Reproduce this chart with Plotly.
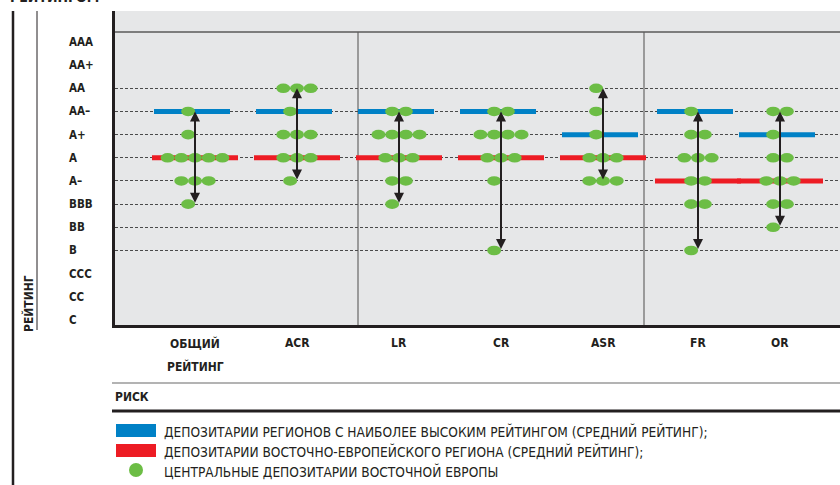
import plotly.graph_objects as go

# ---------------- data ----------------
RATINGS = ["AAA", "AA+", "AA", "AA–", "A+", "A", "A–", "BBB", "BB", "B", "CCC", "CC", "C"]
CATEGORIES = ["ОБЩИЙ РЕЙТИНГ", "ACR", "LR", "CR", "ASR", "FR", "OR"]

# number of East-European central depositories per rating (order of RATINGS)
DOTS_GENERAL = [0, 0, 0, 1, 1, 5, 3, 1, 0, 0, 0, 0, 0]
DOTS_ACR = [0, 0, 3, 1, 3, 3, 1, 0, 0, 0, 0, 0, 0]
DOTS_LR = [0, 0, 0, 2, 4, 3, 2, 1, 0, 0, 0, 0, 0]
DOTS_CR = [0, 0, 0, 2, 4, 3, 1, 0, 0, 1, 0, 0, 0]
DOTS_ASR = [0, 0, 1, 1, 1, 3, 3, 0, 0, 0, 0, 0, 0]
DOTS_FR = [0, 0, 0, 1, 2, 3, 2, 2, 0, 1, 0, 0, 0]
DOTS_OR = [0, 0, 0, 2, 1, 2, 3, 2, 1, 0, 0, 0, 0]

TOP_REGION_AVG = ["AA–", "AA–", "AA–", "AA–", "A+", "AA–", "A+"]
EAST_EUROPE_AVG = ["A", "A", "A", "A", "A", "A–", "A–"]
GRID_RATINGS = ["AA", "AA–", "A+", "A", "A–", "BBB", "BB", "B"]

LEGEND_TEXT = [
    "ДЕПОЗИТАРИИ РЕГИОНОВ С НАИБОЛЕЕ ВЫСОКИМ РЕЙТИНГОМ (СРЕДНИЙ РЕЙТИНГ);",
    "ДЕПОЗИТАРИИ ВОСТОЧНО-ЕВРОПЕЙСКОГО РЕГИОНА (СРЕДНИЙ РЕЙТИНГ);",
    "ЦЕНТРАЛЬНЫЕ ДЕПОЗИТАРИИ ВОСТОЧНОЙ ЕВРОПЫ",
]
AXIS_TITLE = "РЕЙТИНГ"
RISK_TITLE = "РИСК"
TOP_CUT_TEXT = "РЕЙТИНГОМ"

DOTS = [DOTS_GENERAL, DOTS_ACR, DOTS_LR, DOTS_CR, DOTS_ASR, DOTS_FR, DOTS_OR]

# ---------------- layout / style ----------------
W, H = 840, 485
ML, MR, MT, MB = 115, 0, 11, 160
PW, PH = W - ML - MR, H - MT - MB
STEP = 23.17                 # px between rating levels
LABEL_C_PY = 320             # px position of lowest level
CAT_X = [80, 182, 284, 386, 488, 583, 665]   # category centres (x units = px)
SEP_X = [243, 529]
DOT_STEP, DOT_W, DOT_H = 13.7, 14, 9.6
BLUE_SHIFT, BLUE_HALF = -3, 38
RED_SHIFT, RED_HALF = 0, 43

BLUE = "#0081c6"
RED = "#ed1c24"
GREEN = "#6cbd45"
INK = "#231f20"
BG = "#e6e7e8"
FONT = "Liberation Sans Narrow, Arial Narrow, DejaVu Sans Condensed, Liberation Sans, sans-serif"

LEVEL = {r: len(RATINGS) - i for i, r in enumerate(RATINGS)}


def v_of_py(py):
    return 1 + (LABEL_C_PY - py) / STEP


def px_x(px):
    return (px - ML) / PW


def px_y(py):
    return (H - MB - py) / PH


fig = go.Figure()

# average-rating bars
for avg, color, shift, half in [(TOP_REGION_AVG, BLUE, BLUE_SHIFT, BLUE_HALF),
                                (EAST_EUROPE_AVG, RED, RED_SHIFT, RED_HALF)]:
    xs, ys = [], []
    for c, r in zip(CAT_X, avg):
        xs += [c + shift - half, c + shift + half, None]
        ys += [LEVEL[r], LEVEL[r], None]
    fig.add_trace(go.Scatter(x=xs, y=ys, mode="lines", line=dict(color=color, width=5),
                             showlegend=False, hoverinfo="skip"))

shapes = []
annotations = []

# dots (ellipses anchored at data coordinates)
for c, counts in zip(CAT_X, DOTS):
    for r, n in zip(RATINGS, counts):
        if n == 0:
            continue
        offs = [(i - (n - 1) / 2) * DOT_STEP for i in range(n)]
        if n == 1:
            offs = [-DOT_STEP / 2]
        for o in offs:
            shapes.append(dict(type="circle", xref="x", yref="y", xsizemode="pixel", ysizemode="pixel",
                               xanchor=c + o, yanchor=LEVEL[r], x0=-DOT_W / 2, x1=DOT_W / 2,
                               y0=-DOT_H / 2, y1=DOT_H / 2, fillcolor=GREEN, line=dict(width=0),
                               layer="above"))
    # range arrow
    lv = [LEVEL[r] for r, n in zip(RATINGS, counts) if n > 0]
    annotations.append(dict(x=c, y=max(lv), ax=c, ay=min(lv), xref="x", yref="y", axref="x", ayref="y",
                            text="", showarrow=True, arrowhead=2, arrowside="end+start", arrowsize=1,
                            arrowwidth=2, arrowcolor=INK, standoff=0, startstandoff=0))

# separators
for sx in SEP_X:
    shapes.append(dict(type="line", xref="x", yref="paper", x0=sx, x1=sx, y0=0, y1=px_y(32),
                       line=dict(color="#9a9a9a", width=2), layer="below"))
# top line in plot
shapes.append(dict(type="line", xref="paper", yref="paper", x0=0, x1=1, y0=px_y(32), y1=px_y(32),
                   line=dict(color="#5a5a5a", width=1.5)))
# left frame lines
shapes.append(dict(type="line", xref="paper", yref="paper", x0=px_x(13), x1=px_x(13), y0=px_y(11), y1=px_y(486),
                   line=dict(color=INK, width=2.5)))
shapes.append(dict(type="line", xref="paper", yref="paper", x0=px_x(37), x1=px_x(37), y0=px_y(11), y1=px_y(330),
                   line=dict(color=INK, width=1)))
# risk lines
shapes.append(dict(type="line", xref="paper", yref="paper", x0=px_x(112), x1=1, y0=px_y(383), y1=px_y(383),
                   line=dict(color="#9a9a9a", width=1.5)))
shapes.append(dict(type="line", xref="paper", yref="paper", x0=px_x(112), x1=1, y0=px_y(411), y1=px_y(411),
                   line=dict(color=INK, width=3)))
# legend swatches
shapes.append(dict(type="rect", xref="paper", yref="paper", x0=px_x(116), x1=px_x(156), y0=px_y(437), y1=px_y(424),
                   fillcolor=BLUE, line=dict(width=0)))
shapes.append(dict(type="rect", xref="paper", yref="paper", x0=px_x(116), x1=px_x(156), y0=px_y(457), y1=px_y(444),
                   fillcolor=RED, line=dict(width=0)))
shapes.append(dict(type="circle", xref="paper", yref="paper", x0=px_x(129), x1=px_x(143), y0=px_y(477), y1=px_y(463),
                   fillcolor=GREEN, line=dict(width=0)))

# rating labels
for r in RATINGS:
    annotations.append(dict(x=px_x(67), y=LEVEL[r], xref="paper", yref="y", text=r, showarrow=False,
                            xanchor="left", yanchor="middle",
                            font=dict(family=FONT, size=11.5, color=INK, weight="bold")))
# category labels
for c, name in zip(CAT_X, CATEGORIES):
    for k, part in enumerate(name.split(" ")):
        annotations.append(dict(x=c, y=px_y(343 + 23 * k), xref="x", yref="paper", text=part, showarrow=False,
                                xanchor="center", yanchor="middle",
                                font=dict(family=FONT, size=12, color=INK, weight="bold")))
annotations.append(dict(x=px_x(113), y=px_y(397), xref="paper", yref="paper", text=RISK_TITLE, showarrow=False,
                        xanchor="left", yanchor="middle",
                        font=dict(family=FONT, size=12, color=INK, weight="bold")))
annotations.append(dict(x=px_x(28), y=px_y(304), xref="paper", yref="paper", text=AXIS_TITLE, showarrow=False,
                        textangle=-90, xanchor="center", yanchor="middle",
                        font=dict(family=FONT, size=12, color=INK, weight="bold")))
annotations.append(dict(x=px_x(8), y=px_y(7), xref="paper", yref="paper", text=TOP_CUT_TEXT, showarrow=False,
                        xanchor="left", yanchor="bottom",
                        font=dict(family=FONT, size=14, color=INK, weight="bold")))
for k, t in enumerate(LEGEND_TEXT):
    annotations.append(dict(x=px_x(162), y=px_y(431 + 20 * k), xref="paper", yref="paper", text=t,
                            showarrow=False, xanchor="left", yanchor="middle",
                            font=dict(family=FONT, size=13.6, color=INK)))

fig.update_layout(
    width=W, height=H,
    margin=dict(l=ML, r=MR, t=MT, b=MB, pad=0),
    paper_bgcolor="white", plot_bgcolor=BG,
    showlegend=False,
    shapes=shapes, annotations=annotations,
    xaxis=dict(range=[0, PW], showgrid=False, zeroline=False, showticklabels=False, ticks="",
               showline=True, linewidth=3, linecolor=INK, fixedrange=True),
    yaxis=dict(range=[v_of_py(H - MB), v_of_py(MT)], tickvals=[LEVEL[r] for r in GRID_RATINGS],
               showgrid=True, gridcolor="#4a4a4a", gridwidth=1, griddash="3px,2px",
               zeroline=False, showticklabels=False, ticks="",
               showline=True, linewidth=3, linecolor=INK, fixedrange=True),
)

fig.write_html("out.html", config={"displayModeBar": False},
               post_script="document.body.style.margin='0';document.body.style.padding='0';")
